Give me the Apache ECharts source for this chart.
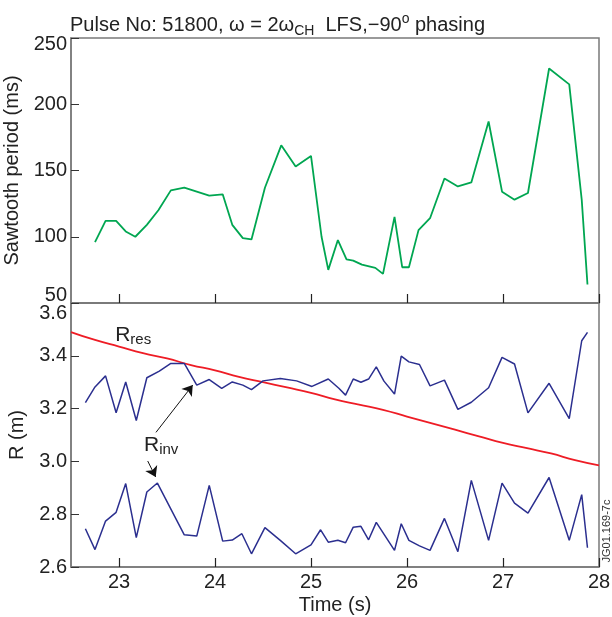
<!DOCTYPE html>
<html>
<head>
<meta charset="utf-8">
<script src="https://cdn.jsdelivr.net/npm/echarts@6/dist/echarts.min.js"></script>
<style>
  html, body { margin: 0; padding: 0; background: #fff; }
  #chart { width: 612px; height: 617px; }
</style>
</head>
<body>
<div id="chart"></div>
<script>
// ---- Data ----
const sawTime = [22.75,22.86,22.97,23.07,23.17,23.29,23.41,23.54,23.68,23.94,24.08,24.18,24.29,24.38,24.52,24.69,24.84,25.00,25.11,25.18,25.28,25.37,25.44,25.53,25.67,25.75,25.87,25.95,26.02,26.12,26.24,26.39,26.53,26.67,26.85,26.99,27.12,27.26,27.48,27.69,27.82,27.88];
const sawPeriod = [96,112,112,104,100,109,120,135,137,131,132,109,99,98,137,169,153,161,100,75,97.5,83,82,79,76.5,72,115,77,77,105,114,144,138,141,187,134,128,133,227,215,128,64];

const invUpperTime = [22.65,22.75,22.86,22.97,23.07,23.18,23.29,23.42,23.54,23.68,23.81,23.94,24.07,24.18,24.29,24.38,24.50,24.68,24.85,25.01,25.18,25.29,25.36,25.44,25.52,25.60,25.68,25.76,25.87,25.94,26.02,26.13,26.24,26.39,26.53,26.67,26.85,26.99,27.12,27.26,27.48,27.69,27.82,27.88];
const invUpperR = [3.223,3.282,3.324,3.184,3.301,3.155,3.317,3.342,3.371,3.371,3.289,3.310,3.277,3.301,3.289,3.272,3.305,3.314,3.305,3.284,3.312,3.277,3.251,3.312,3.300,3.312,3.358,3.304,3.255,3.399,3.377,3.367,3.286,3.308,3.197,3.224,3.279,3.394,3.369,3.184,3.296,3.162,3.457,3.489];

const invLowerTime = [22.65,22.75,22.86,22.97,23.07,23.18,23.29,23.40,23.68,23.81,23.94,24.08,24.18,24.28,24.38,24.52,24.68,24.84,25.00,25.10,25.18,25.28,25.36,25.44,25.52,25.60,25.68,25.87,25.94,26.02,26.13,26.24,26.39,26.53,26.67,26.85,26.99,27.12,27.26,27.48,27.69,27.82,27.88];
const invLowerR = [2.745,2.666,2.774,2.807,2.916,2.711,2.884,2.918,2.722,2.717,2.909,2.698,2.702,2.726,2.650,2.749,2.701,2.650,2.684,2.741,2.694,2.701,2.692,2.751,2.754,2.703,2.769,2.663,2.764,2.701,2.680,2.663,2.784,2.658,2.928,2.701,2.918,2.842,2.804,2.939,2.701,2.874,2.673];

const resTime = [22.5,22.75,23.0,23.25,23.5,23.75,24.0,24.25,24.5,24.75,25.0,25.25,25.5,25.75,26.0,26.25,26.5,26.75,27.0,27.25,27.5,27.75,28.0];
const resR = [3.49,3.46,3.435,3.41,3.39,3.365,3.345,3.32,3.30,3.28,3.26,3.235,3.215,3.195,3.17,3.145,3.12,3.095,3.07,3.05,3.03,3.005,2.985];

const timeTicks = [23,24,25,26,27,28];

// annotation anchors (data coordinates)
const resLabelAt = [22.96, 3.479];
const invLabelAt = [23.26, 3.061];
const arrowUpper = [[23.385, 3.11], [23.768, 3.289]];
const arrowLower = [[23.299, 3.0015], [23.382, 2.941]];

const zip = (a, b) => a.map((v, i) => [v, b[i]]);

const FONT = "'Liberation Sans', Arial, Helvetica, sans-serif";
const AX = '#7a7a7a';
const GREEN = '#00a651';
const BLUE = '#2b2f8f';
const RED = '#ee1c25';

const chart = echarts.init(document.getElementById('chart'), null, {renderer: 'canvas'});

function xAxisCfg(gridIndex, showLabels) {
  return {
    type: 'value', gridIndex, min: 22.5, max: 28,
    axisLine: {show: true, lineStyle: {color: AX, width: 1.5}},
    axisTick: {show: true, inside: true, length: 9, customValues: timeTicks, lineStyle: {color: '#222', width: 1.2}},
    axisLabel: {show: showLabels, customValues: timeTicks, fontFamily: FONT, fontSize: 20, color: '#222', margin: 5},
    splitLine: {show: false},
    name: showLabels ? 'Time (s)' : '',
    nameLocation: 'middle', nameGap: 28,
    nameTextStyle: {fontFamily: FONT, fontSize: 20, color: '#222'}
  };
}

const option = {
  animation: false,
  title: {
    left: 65, top: 7,
    text: '{a|Pulse No: 51800, ω = 2ω}{sub|CH}{a|  LFS,−90}{sup|o}{a| phasing}',
    textStyle: {
      fontWeight: 'normal',
      rich: {
        a: {fontFamily: FONT, fontSize: 20, fontWeight: 'normal', color: '#222'},
        sub: {fontFamily: FONT, fontSize: 14, fontWeight: 'normal', color: '#222', padding: [12, 0, 0, 0]},
        sup: {fontFamily: FONT, fontSize: 14, fontWeight: 'normal', color: '#222', padding: [0, 0, 12, 0]}
      }
    }
  },
  grid: [
    {left: 71, top: 38, width: 528, height: 265, show: true, borderColor: AX, borderWidth: 1.5, containLabel: false, outerBoundsMode: 'none'},
    {left: 71, top: 303, width: 528, height: 264, show: true, borderColor: AX, borderWidth: 1.5, containLabel: false, outerBoundsMode: 'none'}
  ],
  xAxis: [xAxisCfg(0, false), xAxisCfg(1, true)],
  yAxis: [
    {
      type: 'value', gridIndex: 0, min: 50, max: 250, interval: 50,
      axisLine: {show: true, lineStyle: {color: AX, width: 1.5}},
      axisTick: {show: true, inside: true, length: 8, lineStyle: {color: '#333', width: 1}},
      axisLabel: {
        fontFamily: FONT, fontSize: 20, color: '#222', margin: 4,
        formatter: v => v === 250 ? '{dn|250}' : (v === 50 ? '{up|50}' : String(v)),
        rich: {
          dn: {fontFamily: FONT, fontSize: 20, color: '#222', padding: [12, 0, 0, 0]},
          up: {fontFamily: FONT, fontSize: 20, color: '#222', padding: [0, 0, 16, 0]}
        }
      },
      splitLine: {show: false},
      name: 'Sawtooth period (ms)', nameLocation: 'middle', nameGap: 44,
      nameTextStyle: {fontFamily: FONT, fontSize: 20, color: '#222'}
    },
    {
      type: 'value', gridIndex: 1, min: 2.6, max: 3.6, interval: 0.2,
      axisLine: {show: true, lineStyle: {color: AX, width: 1.5}},
      axisTick: {show: true, inside: true, length: 8, lineStyle: {color: '#333', width: 1}},
      axisLabel: {
        fontFamily: FONT, fontSize: 20, color: '#222', margin: 4,
        formatter: v => { const s = v.toFixed(1); return s === '3.6' ? '{dn|3.6}' : s; },
        rich: {dn: {fontFamily: FONT, fontSize: 20, color: '#222', padding: [20, 0, 0, 0]}}
      },
      splitLine: {show: false},
      name: 'R (m)', nameLocation: 'middle', nameGap: 44,
      nameTextStyle: {fontFamily: FONT, fontSize: 20, color: '#222'}
    }
  ],
  series: [
    {
      type: 'line', xAxisIndex: 0, yAxisIndex: 0, data: zip(sawTime, sawPeriod),
      showSymbol: false, lineStyle: {color: GREEN, width: 1.8}, itemStyle: {color: GREEN}
    },
    {
      type: 'line', xAxisIndex: 1, yAxisIndex: 1, data: zip(resTime, resR), smooth: true,
      showSymbol: false, lineStyle: {color: RED, width: 1.8}, itemStyle: {color: RED}
    },
    {
      type: 'line', xAxisIndex: 1, yAxisIndex: 1, data: zip(invUpperTime, invUpperR),
      showSymbol: false, lineStyle: {color: BLUE, width: 1.5}, itemStyle: {color: BLUE},
      markPoint: {
        symbol: 'circle', symbolSize: 0, silent: true,
        label: {show: true, position: 'right', distance: 0, color: '#222'},
        data: [
          {coord: resLabelAt, label: {formatter: '{r|R}{s|res}', rich: {
            r: {fontFamily: FONT, fontSize: 21, color: '#222'},
            s: {fontFamily: FONT, fontSize: 15, color: '#222', padding: [10, 0, 0, 0]}}}},
          {coord: invLabelAt, label: {formatter: '{r|R}{s|inv}', rich: {
            r: {fontFamily: FONT, fontSize: 21, color: '#222'},
            s: {fontFamily: FONT, fontSize: 15, color: '#222', padding: [10, 0, 0, 0]}}}}
        ]
      },
      markLine: {
        silent: true, symbol: ['none', 'arrow'], symbolSize: 10,
        lineStyle: {color: '#111', width: 1, type: 'solid'},
        itemStyle: {color: '#111'},
        label: {show: false},
        emphasis: {disabled: true},
        data: [
          [{coord: arrowUpper[0]}, {coord: arrowUpper[1]}],
          [{coord: arrowLower[0]}, {coord: arrowLower[1]}]
        ]
      }
    },
    {
      type: 'line', xAxisIndex: 1, yAxisIndex: 1, data: zip(invLowerTime, invLowerR),
      showSymbol: false, lineStyle: {color: BLUE, width: 1.5}, itemStyle: {color: BLUE}
    }
  ],
  graphic: [
    {
      type: 'text', x: 607, y: 531, rotation: Math.PI / 2,
      style: {text: 'JG01.169-7c', fontFamily: FONT, fontSize: 11, fill: '#333', align: 'center', verticalAlign: 'middle'}
    }
  ]
};

chart.setOption(option);
</script>
</body>
</html>
